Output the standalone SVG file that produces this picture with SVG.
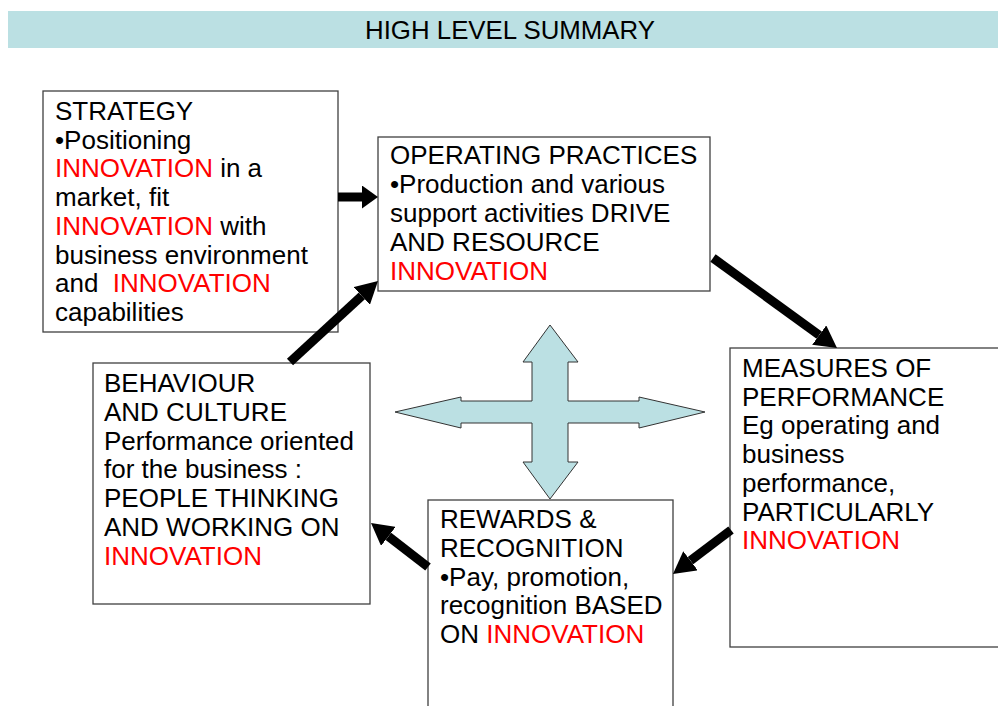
<svg xmlns="http://www.w3.org/2000/svg" width="998" height="706" viewBox="0 0 998 706">
<style>
.box{fill:#ffffff;stroke:#404040;stroke-width:1.3}
.t{font-family:"Liberation Sans",Arial,sans-serif;font-size:26px;fill:#000000}
.r{fill:#ff0000}
.hdr{font-family:"Liberation Sans",Arial,sans-serif;font-size:25px;fill:#000000}
.arr{stroke:#000000;stroke-width:9;fill:none}
</style>
<defs>
<marker id="head" viewBox="0 0 22 24" refX="0" refY="12" markerWidth="22" markerHeight="24" markerUnits="userSpaceOnUse" orient="auto">
<path d="M0,0 L22,12 L0,24 z" fill="#000000"/>
</marker>
<marker id="headS" viewBox="0 0 16 23" refX="0" refY="11.5" markerWidth="16" markerHeight="23" markerUnits="userSpaceOnUse" orient="auto">
<path d="M0,0 L16,11.5 L0,23 z" fill="#000000"/>
</marker>
</defs>
<rect width="998" height="706" fill="#ffffff"/>
<g id="header">
<rect x="8" y="11" width="990" height="37" fill="#bbe0e3"/>
<text class="hdr" x="510" y="39" text-anchor="middle" textLength="290" lengthAdjust="spacingAndGlyphs">HIGH LEVEL SUMMARY</text>
</g>
<g id="strategy">
<rect class="box" x="43" y="91" width="295" height="241"/>
<text class="t" x="55" y="120">STRATEGY</text>
<text class="t" x="55" y="148.7">•Positioning</text>
<text class="t" x="55" y="177.4"><tspan class="r">INNOVATION</tspan> in a</text>
<text class="t" x="55" y="206.1">market, fit</text>
<text class="t" x="55" y="234.8"><tspan class="r">INNOVATION</tspan> with</text>
<text class="t" x="55" y="263.5">business environment</text>
<text class="t" x="55" y="292.2">and&#160; <tspan class="r">INNOVATION</tspan></text>
<text class="t" x="55" y="320.9">capabilities</text>
</g>
<g id="operating">
<rect class="box" x="378" y="137" width="332" height="154"/>
<text class="t" x="390" y="164">OPERATING PRACTICES</text>
<text class="t" x="390" y="193">•Production and various</text>
<text class="t" x="390" y="222">support activities DRIVE</text>
<text class="t" x="390" y="251">AND RESOURCE</text>
<text class="t r" x="390" y="280">INNOVATION</text>
</g>
<g id="measures">
<rect class="box" x="730" y="348" width="280" height="299"/>
<text class="t" x="742" y="377">MEASURES OF</text>
<text class="t" x="742" y="405.7">PERFORMANCE</text>
<text class="t" x="742" y="434.4">Eg operating and</text>
<text class="t" x="742" y="463.1">business</text>
<text class="t" x="742" y="491.8">performance,</text>
<text class="t" x="742" y="520.5">PARTICULARLY</text>
<text class="t r" x="742" y="549.2">INNOVATION</text>
</g>
<g id="rewards">
<rect class="box" x="428" y="500" width="245" height="220"/>
<text class="t" x="440" y="528">REWARDS &amp;</text>
<text class="t" x="440" y="556.8">RECOGNITION</text>
<text class="t" x="440" y="585.6">•Pay, promotion,</text>
<text class="t" x="440" y="614.4">recognition BASED</text>
<text class="t" x="440" y="643.2">ON <tspan class="r">INNOVATION</tspan></text>
</g>
<g id="behaviour">
<rect class="box" x="93" y="363" width="277" height="241"/>
<text class="t" x="104" y="392">BEHAVIOUR</text>
<text class="t" x="104" y="420.8">AND CULTURE</text>
<text class="t" x="104" y="449.6">Performance oriented</text>
<text class="t" x="104" y="478.4">for the business :</text>
<text class="t" x="104" y="507.2">PEOPLE THINKING</text>
<text class="t" x="104" y="536">AND WORKING ON</text>
<text class="t r" x="104" y="564.8">INNOVATION</text>
</g>
<g id="cross">
<polygon points="550,325 578,362 568,362 568,401 639,401 639,397 705,412 639,428 639,423 568,423 568,462 578,462 550,499 523,462 532,462 532,423 461,423 461,428 395,412 461,397 461,401 532,401 532,362 523,362" fill="#bbe0e3" stroke="#333333" stroke-width="1"/>
</g>
<g id="connectors">
<line class="arr" x1="338" y1="197" x2="362" y2="197" stroke-width="8" marker-end="url(#headS)"/>
<line class="arr" x1="290" y1="362" x2="361.8" y2="295.9" marker-end="url(#head)"/>
<line class="arr" x1="713" y1="258" x2="819.2" y2="335.1" marker-end="url(#head)"/>
<line class="arr" x1="731" y1="530" x2="690.5" y2="560.7" marker-end="url(#head)"/>
<line class="arr" x1="428" y1="567" x2="388.4" y2="536.4" marker-end="url(#head)"/>
</g>
</svg>
